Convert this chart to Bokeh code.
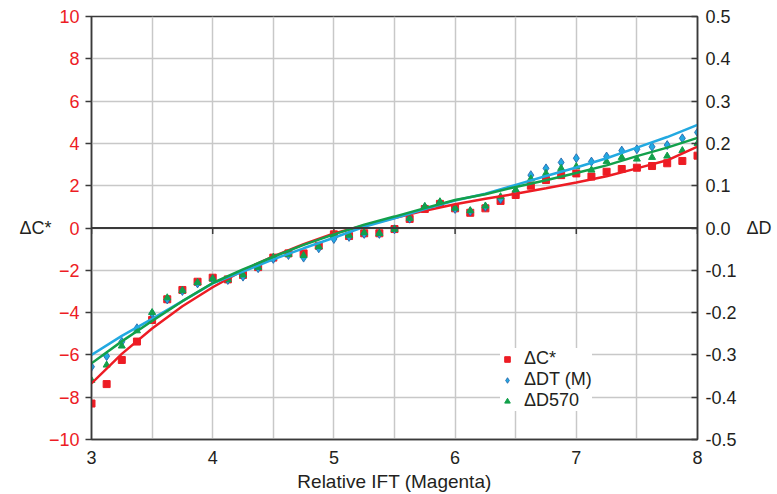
from bokeh.plotting import figure
from bokeh.models import (LinearAxis, Range1d, FixedTicker, Span, Legend,
                          LegendItem, CustomJSTickFormatter)
from bokeh.embed import file_html
from bokeh.resources import INLINE

# ---------------- data ----------------
x_pts = [3.0 + 0.125 * i for i in range(41)]

dc_star = [-8.30, -7.38, -6.24, -5.37, -4.35, -3.37, -2.93, -2.54, -2.35, -2.43,
           -2.22, -1.85, -1.40, -1.20, -1.20, -0.84, -0.30, -0.38, -0.25, -0.25,
           -0.05, 0.43, 0.90, 1.14, 0.93, 0.72, 0.93, 1.28, 1.56, 2.00,
           2.27, 2.50, 2.58, 2.43, 2.66, 2.79, 2.85, 2.93, 3.06, 3.17, 3.42]

ddt_m = [-0.328, -0.303, -0.269, -0.237, -0.202, -0.169, -0.149, -0.131, -0.121, -0.123,
         -0.115, -0.095, -0.073, -0.064, -0.070, -0.048, -0.026, -0.021, -0.014, -0.014,
         -0.003, 0.022, 0.049, 0.059, 0.045, 0.039, 0.050, 0.068, 0.088, 0.125,
         0.141, 0.155, 0.165, 0.157, 0.169, 0.183, 0.186, 0.192, 0.196, 0.212, 0.226]

dd570 = [-0.360, -0.324, -0.279, -0.243, -0.200, -0.165, -0.148, -0.129, -0.120, -0.122,
         -0.111, -0.093, -0.069, -0.062, -0.065, -0.044, -0.017, -0.017, -0.011, -0.013,
         -0.003, 0.023, 0.051, 0.062, 0.047, 0.041, 0.052, 0.074, 0.090, 0.116,
         0.129, 0.141, 0.145, 0.137, 0.157, 0.167, 0.163, 0.167, 0.170, 0.183, 0.200]

x_line = [3.0 + 0.25 * i for i in range(21)]
dc_star_fit = [-7.35, -5.95, -4.75, -3.70, -2.80, -2.00, -1.34, -0.77, -0.26, 0.12,
               0.47, 0.82, 1.12, 1.38, 1.62, 1.88, 2.15, 2.45, 2.82, 3.20, 3.85]
ddt_m_fit = [-0.300, -0.255, -0.215, -0.173, -0.131, -0.103, -0.074, -0.048, -0.023, 0.003,
             0.023, 0.045, 0.065, 0.081, 0.102, 0.123, 0.143, 0.165, 0.190, 0.215, 0.244]
dd570_fit = [-0.320, -0.268, -0.220, -0.173, -0.130, -0.098, -0.068, -0.040, -0.015, 0.008,
             0.027, 0.047, 0.066, 0.080, 0.097, 0.113, 0.130, 0.148, 0.170, 0.190, 0.213]

x_ticks = [3, 4, 5, 6, 7, 8]
x_grid = [3.0, 3.5, 4.0, 4.5, 5.0, 5.5, 6.0, 6.5, 7.0, 7.5, 8.0]
left_ticks = [-10, -8, -6, -4, -2, 0, 2, 4, 6, 8, 10]
right_ticks = [-0.5, -0.4, -0.3, -0.2, -0.1, 0.0, 0.1, 0.2, 0.3, 0.4, 0.5]
left_title = "ΔC*"
right_title = "ΔD"

# ---------------- style ----------------
FONT = "Liberation Sans"
RED = "#ed1c24"
BLUE = "#22a9e1"
GREEN = "#12a04b"
DARK = "#3a3a3a"
TXT = "#231f20"

p = figure(width=777, height=494, output_backend="svg", toolbar_location=None,
           x_range=Range1d(3, 8), y_range=Range1d(-10, 10),
           min_border_left=91, min_border_right=80, min_border_top=16, min_border_bottom=55)
p.extra_y_ranges = {"right": Range1d(-0.5, 0.5)}

p.outline_line_color = DARK
p.outline_line_width = 1.5
p.background_fill_color = "white"
p.border_fill_color = "white"

# grid
p.xgrid.ticker = FixedTicker(ticks=x_grid)
p.ygrid.ticker = FixedTicker(ticks=left_ticks)
for g in (p.xgrid, p.ygrid):
    g.grid_line_color = "#c8c8c8"
    g.grid_line_width = 1.5

# bottom axis
xa = p.xaxis[0]
xa.ticker = FixedTicker(ticks=x_ticks)
xa.axis_label = "Relative IFT (Magenta)"
xa.axis_label_text_font = FONT
xa.axis_label_text_font_size = "19px"
xa.axis_label_text_font_style = "normal"
xa.axis_label_text_color = TXT
xa.axis_label_standoff = 4
xa.major_label_text_font = FONT
xa.major_label_text_font_size = "18px"
xa.major_label_text_color = TXT
xa.major_label_standoff = 5
xa.major_tick_line_color = None
xa.minor_tick_line_color = None
xa.axis_line_color = DARK
xa.axis_line_width = 1.5

# left axis
ya = p.yaxis[0]
ya.ticker = FixedTicker(ticks=left_ticks)
ya.major_label_text_font = FONT
ya.major_label_text_font_size = "18px"
ya.major_label_text_color = RED
ya.major_tick_out = 6
ya.major_tick_in = 0
ya.major_tick_line_color = DARK
ya.major_tick_line_width = 1.5
ya.minor_tick_line_color = None
ya.axis_line_color = DARK
ya.axis_line_width = 1.5
ya.major_label_standoff = 6

# right axis
ra = LinearAxis(y_range_name="right")
ra.ticker = FixedTicker(ticks=right_ticks)
ra.formatter = CustomJSTickFormatter(code="return tick.toFixed(1);")
ra.major_label_text_font = FONT
ra.major_label_text_font_size = "18px"
ra.major_label_text_color = TXT
ra.major_tick_out = 0
ra.major_tick_in = 6
ra.major_tick_line_color = DARK
ra.major_tick_line_width = 1.5
ra.minor_tick_line_color = None
ra.axis_line_color = DARK
ra.axis_line_width = 1.5
ra.major_label_standoff = 8
p.add_layout(ra, "right")


def title_axis(range_name, text, standoff):
    ax = LinearAxis(y_range_name=range_name) if range_name else LinearAxis()
    ax.ticker = FixedTicker(ticks=[0])
    ax.major_label_overrides = {0: text}
    ax.major_label_text_font = FONT
    ax.major_label_text_font_size = "18px"
    ax.major_label_text_color = TXT
    ax.major_label_standoff = standoff
    ax.major_tick_line_color = None
    ax.minor_tick_line_color = None
    ax.major_tick_in = 0
    ax.major_tick_out = 0
    ax.axis_line_color = None
    return ax


p.add_layout(title_axis(None, left_title, -6), "left")
p.add_layout(title_axis("right", right_title, 7), "right")

# zero line with ticks
p.add_layout(Span(location=0, dimension="width", line_color=DARK, line_width=2))
p.segment(x0=x_ticks, y0=[0] * len(x_ticks), x1=x_ticks, y1=[-0.28] * len(x_ticks),
          line_color=DARK, line_width=1.5)

# markers
r1 = p.scatter(x_pts, dc_star, marker="square", size=7, fill_color=RED, line_color=RED)
r2 = p.scatter(x_pts, ddt_m, marker="diamond", size=9, fill_color=BLUE, line_color="#1f5fa8",
               line_width=0.8, y_range_name="right")
r3 = p.scatter(x_pts, dd570, marker="triangle", size=7, fill_color=GREEN, line_color=GREEN,
               y_range_name="right")

# fitted lines
p.line(x_line, dc_star_fit, line_color=RED, line_width=2.5)
p.line(x_line, ddt_m_fit, line_color=BLUE, line_width=2.5, y_range_name="right")
p.line(x_line, dd570_fit, line_color=GREEN, line_width=2.5, y_range_name="right")

legend = Legend(items=[LegendItem(label="ΔC*", renderers=[r1]),
                       LegendItem(label="ΔDT (M)", renderers=[r2]),
                       LegendItem(label="ΔD570", renderers=[r3])],
                location=(409, 28))
legend.label_text_font = FONT
legend.label_text_font_size = "18px"
legend.label_text_color = TXT
legend.border_line_color = None
legend.background_fill_color = "white"
legend.background_fill_alpha = 1.0
legend.glyph_width = 14
legend.glyph_height = 14
legend.label_standoff = 10
legend.spacing = 0
legend.padding = 8
legend.label_height = 18
p.add_layout(legend, "center")

open("out.html", "w").write(file_html(p, INLINE))
